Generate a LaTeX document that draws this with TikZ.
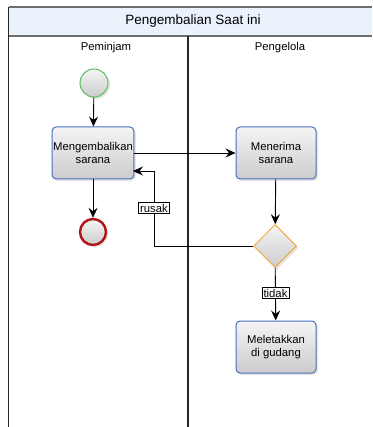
\documentclass[tikz,border=0pt]{standalone}
\usepackage{fontspec}
\setmainfont{Liberation Sans}
\usetikzlibrary{arrows.meta,shapes.geometric,shadows,calc}
\definecolor{bandfill}{RGB}{234,242,252}
\definecolor{poolline}{RGB}{110,110,110}
\definecolor{taskblue}{RGB}{74,110,190}
\definecolor{gwor}{RGB}{238,170,60}
\definecolor{stgreen}{RGB}{90,190,90}
\definecolor{endred}{RGB}{178,20,20}
\tikzset{
  lbl/.style={font=\fontsize{11.3}{13.5}\selectfont, align=center},
  shade/.style={top color=black!4, bottom color=black!20,
    drop shadow={shadow xshift=2pt, shadow yshift=-2pt, opacity=0.2}},
  task/.style={rectangle, rounded corners=4pt, draw=taskblue, line width=1pt,
    minimum width=80pt, minimum height=52pt, shade, lbl, inner sep=1pt},
  startev/.style={circle, draw=stgreen, line width=1pt, minimum size=28pt, inner sep=0pt, shade},
  endev/.style={circle, draw=endred, line width=2.4pt, minimum size=26pt, inner sep=0pt, shade},
  gw/.style={diamond, draw=gwor, line width=1pt, minimum width=43pt, minimum height=43pt, inner sep=0pt, shade},
  flow/.style={draw=black, line width=0.9pt, -{Stealth[length=10pt,width=9pt,inset=3.5pt]}},
  elabel/.style={draw=black, fill=white, line width=0.8pt, inner sep=1.5pt, lbl},
}
\begin{document}
\begin{tikzpicture}[x=1pt,y=-1pt]
\useasboundingbox (0,0) rectangle (372,427);
% pool
\fill[bandfill] (8.5,7) rectangle (372,36);
\draw[poolline, line width=1.3pt] (8.5,7) -- (372,7);
\draw[poolline, line width=1.3pt] (8.5,36) -- (372,36);
\draw[black!85, line width=1.3pt] (8.5,7) -- (8.5,427);
\draw[black!85, line width=1.2pt] (188,36) -- (188,427);
\node[font=\fontsize{13.5}{16}\selectfont] (title) at (193,21.5) {Pengembalian Saat ini};
\node[lbl] (lane1) at (106,48) {Peminjam};
\node[lbl] (lane2) at (280,48) {Pengelola};
% nodes
\node[startev] (s) at (94,83) {};
\node[task] (t1) at (93,153) {Mengembalikan\\sarana};
\node[endev] (e) at (93,232) {};
\node[task] (t2) at (276,153) {Menerima\\sarana};
\node[gw] (g) at (275,246) {};
\node[task] (t3) at (276,347) {Meletakkan\\di gudang};
\coordinate (bend) at (154,246);
\coordinate (ret) at (133,171);
% flows
\draw[flow] (s) -- (t1);
\draw[flow] (t1) -- (e);
\draw[flow] (t1.east) -- (t2.west);
\draw[flow] (t2) -- (g);
\draw[flow] (g) -- (t3) node[elabel, pos=0.48] (lt) {tidak};
\draw[flow] (g.west) -- (bend) -- (bend |- ret) -- (ret);
\node[elabel] (lr) at (154,208) {rusak};
\end{tikzpicture}
\end{document}
